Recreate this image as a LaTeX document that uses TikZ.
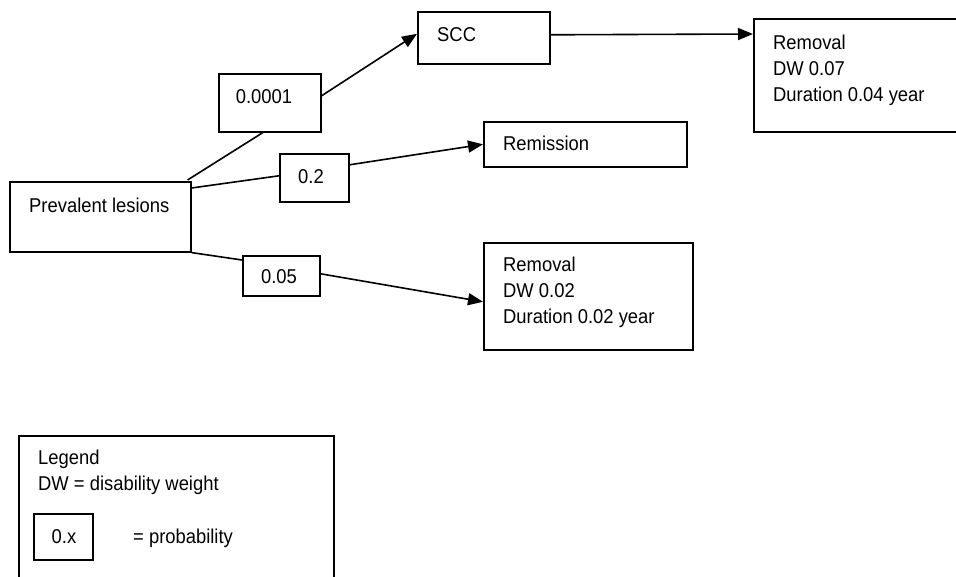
\documentclass[tikz,border=0pt]{standalone}
\usepackage{fontspec}
\setmainfont{Liberation Sans}[FakeStretch=0.92]
\usetikzlibrary{arrows.meta,calc}
\tikzset{
  box/.style={draw, line width=1.6pt, rectangle, inner sep=0pt, anchor=north west},
  txt/.style={font=\fontsize{20}{26}\selectfont, inner sep=0pt, text height=14.5pt, text depth=4pt},
  ml/.style={font=\fontsize{20}{26}\selectfont, inner sep=0pt, align=left, anchor=west},
  conn/.style={line width=1.6pt},
  arr/.style={conn, -{Triangle[length=15pt,width=12pt]}},
}
\begin{document}
\begin{tikzpicture}[x=1pt,y=-1pt]
\useasboundingbox (0,0) rectangle (956,577);
\fill[white] (0,0) rectangle (956,577);
\clip (0,0) rectangle (956,577);

% boxes
\node[box, minimum width=181pt, minimum height=70pt] (pl) at (9,181) {};
\node[box, minimum width=102pt, minimum height=58pt] (p1) at (218,73) {};
\node[box, minimum width=69pt, minimum height=48pt] (p2) at (279,153) {};
\node[box, minimum width=77pt, minimum height=40pt] (p3) at (242,255) {};
\node[box, minimum width=132pt, minimum height=52pt] (scc) at (417,11) {};
\node[box, minimum width=203pt, minimum height=45pt] (rem) at (483,121) {};
\node[box, minimum width=209pt, minimum height=107pt] (rb) at (483,242) {};
\node[box, minimum width=230pt, minimum height=113pt] (rt) at (753,18) {};
\node[box, minimum width=315pt, minimum height=160pt] (leg) at (18,435) {};
\node[box, minimum width=59pt, minimum height=46pt] (lx) at (33,513) {};

% texts
\node[txt, anchor=west] (tpl) at (29,207) {Prevalent lesions};
\node[txt] (tp1) at (264,98) {0.0001};
\node[txt] (tp2) at (311,178) {0.2};
\node[txt] (tp3) at (279,278) {0.05};
\node[txt, anchor=west] (tscc) at (437,36) {SCC};
\node[txt, anchor=west] (trem) at (503,145) {Remission};
\node[ml] (trt) at (773,70) {Removal\\DW 0.07\\Duration 0.04 year};
\node[ml] (trb) at (503,292) {Removal\\DW 0.02\\Duration 0.02 year};
\node[ml] (tleg) at (38,472) {Legend\\DW = disability weight};
\node[txt] (tlx) at (64,538) {0.x};
\node[txt, anchor=west] (tprob) at (133,538) {= probability};

% connectors
\draw[conn] ($(pl.north east)+(-4,-1)$) -- ($(p1.south)+(-7,0)$);
\draw[arr] ($(p1.east)+(0,-7)$) -- ($(scc.west)+(0,-4)$);
\draw[conn] ($(pl.north east)+(0,7)$) -- ($(p2.west)+(0,-2)$);
\draw[arr] ($(p2.east)+(0,-13)$) -- (rem.west);
\draw[conn] (pl.south east) -- ($(p3.north west)+(0,5)$);
\draw[arr] ($(p3.east)+(0,-2)$) -- ($(rb.west)+(0,5.5)$);
\draw[arr] ($(scc.east)+(0,-3)$) -- ($(rt.north west)+(0,16)$);
\end{tikzpicture}
\end{document}
